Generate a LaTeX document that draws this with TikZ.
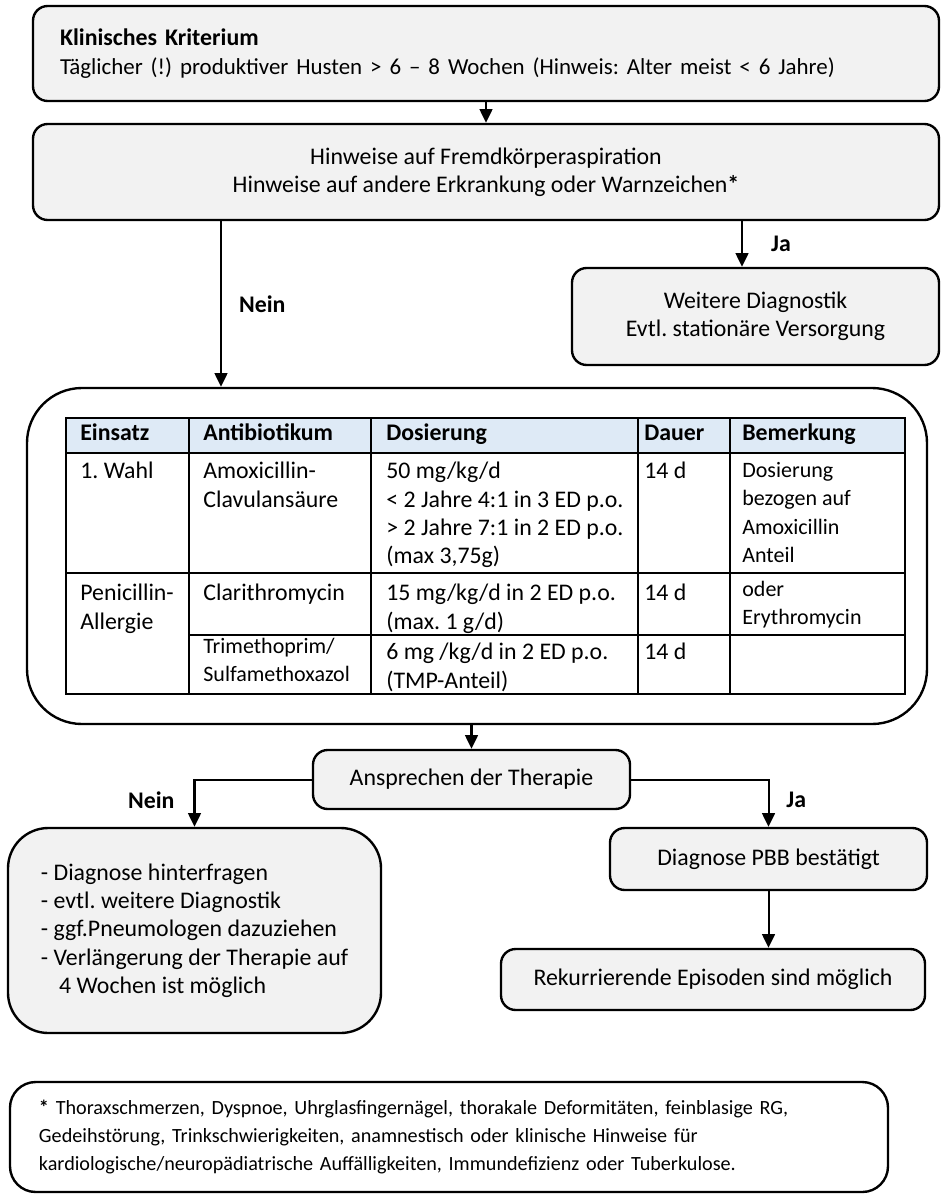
\documentclass[tikz,border=0pt]{standalone}
\usepackage{fontspec}
\setmainfont{Carlito}
\usetikzlibrary{arrows.meta, positioning, calc}
\definecolor{boxgray}{RGB}{242,242,242}
\definecolor{headblue}{RGB}{222,234,246}
\newdimen\pxu \pxu=0.5455pt
\frenchspacing

\begin{document}
\begin{tikzpicture}[x=0.5455pt, y=-0.5455pt,
  font=\fontsize{13}{15.44}\selectfont,
  box/.style={draw, line width=1.3pt, fill=boxgray, rounded corners=8pt, align=center, inner sep=0pt},
  arr/.style={-{Triangle[length=7.5pt,width=7pt]}, line width=1.1pt},
  lbl/.style={font=\fontsize{13}{15.44}\selectfont\bfseries},
  cell/.style={anchor=north west, inner sep=0pt, align=left, execute at begin node=\strut},
  headcell/.style={cell, font=\fontsize{13}{15.44}\selectfont\bfseries},
  smallcell/.style={cell, font=\fontsize{12}{15.44}\selectfont},
  grid/.style={line width=1.1pt}]
  \useasboundingbox (0,0) rectangle (948,1198);

  % Kriterium und Warnzeichen
  \node[box, minimum width=906\pxu, minimum height=95\pxu, text width=852\pxu, align=left] (crit) at (486,53.5)
    {\textbf{Klinisches Kriterium}\\{\fontsize{12.5}{15.44}\selectfont Täglicher (!) produktiver Husten > 6 – 8 Wochen (Hinweis: Alter meist < 6 Jahre)}};
  \node[box, minimum width=906\pxu, minimum height=96\pxu] (hint) at (486,172)
    {Hinweise auf Fremdkörperaspiration\\Hinweise auf andere Erkrankung oder Warnzeichen\textbf{*}};
  \draw[arr] (crit.south) -- (hint.north);

  % Ja: weitere Diagnostik
  \node[box, minimum width=367\pxu, minimum height=97\pxu] (more) at (755.5,316.5)
    {Weitere Diagnostik\\Evtl. stationäre Versorgung};
  \coordinate (jax) at (742,0);
  \draw[arr] (hint.south -| jax) -- (more.north -| jax) node[lbl, midway, right=12pt] (ja1) {Ja};

  % Nein: Therapie
  \node[draw, line width=1.3pt, fill=white, rounded corners=30pt, minimum width=900\pxu, minimum height=336\pxu] (tabbox) at (477,556) {};
  \coordinate (neinx) at (221,0);
  \draw[arr] (hint.south -| neinx) -- (tabbox.north -| neinx) node[lbl, midway, right=6pt] (nein1) {Nein};

  % Tabelle
  \fill[headblue] (66,418) rectangle (905,453);
  \draw[grid] (66,418) rectangle (905,694);
  \draw[grid] (66,453) -- (905,453);
  \draw[grid] (66,573) -- (905,573);
  \draw[grid] (189,635) -- (905,635);
  \foreach \cx in {189,371,638,730}
    \draw[grid] (\cx,418) -- (\cx,694);

  \node[headcell] (hEin) at (80,420) {Einsatz};
  \node[headcell] (hAnt) at (203,420) {Antibiotikum};
  \node[headcell] (hDos) at (386,420) {Dosierung};
  \node[headcell] (hDau) at (644,420) {Dauer};
  \node[headcell] (hBem) at (742,420) {Bemerkung};

  \node[cell] (einA) at (80,458) {1. Wahl};
  \node[cell] (antA) at (203,462) {Amoxicillin-\\Clavulansäure};
  \node[cell] (dosA) at (386,462) {50 mg/kg/d\\< 2 Jahre 4:1 in 3 ED p.o.\\> 2 Jahre 7:1 in 2 ED p.o.\\(max 3,75g)};
  \node[cell] (dauA) at (644,458) {14 d};
  \node[smallcell] (bemA) at (742,462) {Dosierung\\bezogen auf\\Amoxicillin\\Anteil};

  \node[cell] (einB) at (80,584) {Penicillin-\\Allergie};
  \node[cell] (antB) at (203,580) {Clarithromycin};
  \node[cell] (dosB) at (386,584) {15 mg/kg/d in 2 ED p.o.\\(max. 1 g/d)};
  \node[cell] (dauB) at (644,580) {14 d};
  \node[smallcell] (bemB) at (742,581) {oder\\Erythromycin};

  \node[smallcell] (antC) at (203,638) {Trimethoprim/\\Sulfamethoxazol};
  \node[cell] (dosC) at (386,643) {6 mg /kg/d in 2 ED p.o.\\(TMP-Anteil)};
  \node[cell] (dauC) at (644,639) {14 d};

  % Ansprechen
  \node[box, minimum width=317\pxu, minimum height=59\pxu] (ans) at (471.5,779.5) {Ansprechen der Therapie};
  \draw[arr] (tabbox.south -| ans.north) -- (ans.north);

  \node[box, rounded corners=22pt, minimum width=373\pxu, minimum height=205\pxu, align=left] (chk) at (194.5,930.5)
    {- Diagnose hinterfragen\\- evtl. weitere Diagnostik\\- ggf.Pneumologen dazuziehen\\- Verlängerung der Therapie auf\\\hspace*{10pt}4 Wochen ist möglich};
  \draw[arr] (ans.west) -| (chk.north);
  \node[lbl, anchor=east] (nein2) at (181,800) {Nein};

  \node[box, minimum width=317\pxu, minimum height=62\pxu] (pbb) at (768.5,859) {Diagnose PBB bestätigt};
  \draw[arr] (ans.east) -| (pbb.north);
  \node[lbl, anchor=west] (ja2) at (780,800) {Ja};

  \node[box, minimum width=424\pxu, minimum height=61\pxu] (rek) at (713,979.5) {Rekurrierende Episoden sind möglich};
  \draw[arr] (pbb.south) -- (pbb.south |- rek.north);

  % Fussnote
  \node[box, fill=white, rounded corners=14pt, minimum width=878\pxu, minimum height=110\pxu, text width=820\pxu, align=left,
    font=\fontsize{11}{15.2}\selectfont] (fn) at (449,1137)
    {\textbf{*} Thoraxschmerzen, Dyspnoe, Uhrglasfingernägel, thorakale Deformitäten, feinblasige RG,\\Gedeihstörung, Trinkschwierigkeiten, anamnestisch oder klinische Hinweise für\\kardiologische/neuropädiatrische Auffälligkeiten, Immundefizienz oder Tuberkulose.};
\end{tikzpicture}
\end{document}
